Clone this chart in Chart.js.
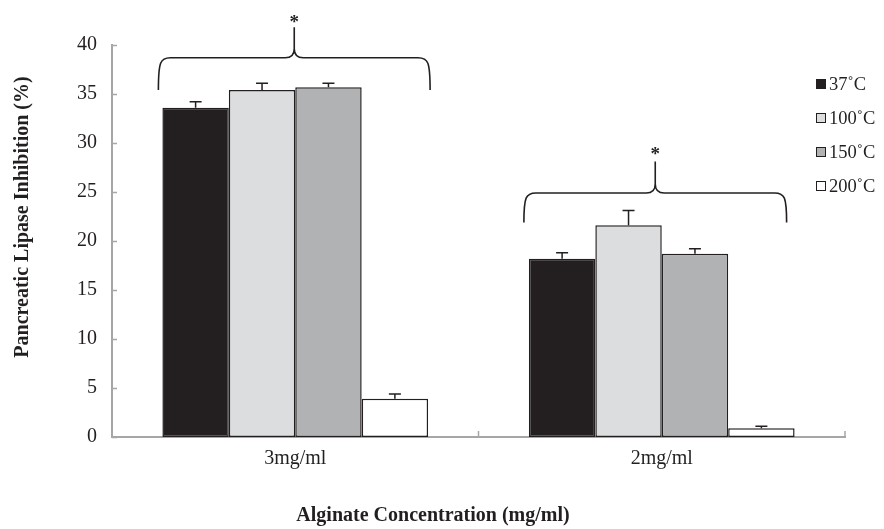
<!DOCTYPE html>
<html>
<head>
<meta charset="utf-8">
<script src="https://cdn.jsdelivr.net/npm/chart.js@4.4.0/dist/chart.umd.min.js"></script>
<style>
    html, body { margin: 0; padding: 0; background: #fff; }
    #wrap { width: 884px; height: 529px; position: relative; }
</style>
</head>
<body>
<div id="wrap"><canvas id="lipaseChart" width="884" height="529"></canvas></div>
<script>
const categories = ["3mg/ml", "2mg/ml"];
const seriesNames = ["37\u02daC", "100\u02daC", "150\u02daC", "200\u02daC"];
const v37 = [33.6, 18.2];
const v100 = [35.4, 21.6];
const v150 = [35.7, 18.7];
const v200 = [3.9, 0.9];
const e37 = [0.6, 0.6];
const e100 = [0.7, 1.5];
const e150 = [0.4, 0.5];
const e200 = [0.5, 0.2];
const yTicks = [0, 5, 10, 15, 20, 25, 30, 35, 40];

// significance braces (values in % units)
const braceTop = [38.7, 24.9];
const braceEnd = [35.4, 21.9];
const braceSpike = [41.8, 28.1];
const starAt = [42.6, 29.2];

const serif = "'Liberation Serif', 'Times New Roman', serif";
const ink = "#231f20";
const fills = ["#231f20", "#dcdddf", "#b1b2b4", "#ffffff"];
const values = [v37, v100, v150, v200];
const errors = [e37, e100, e150, e200];

const errorBars = {
    id: "errorBars",
    afterDatasetsDraw(chart) {
        const { ctx, scales: { y } } = chart;
        ctx.save();
        ctx.strokeStyle = ink;
        ctx.lineWidth = 1.5;
        chart.data.datasets.forEach((ds, di) => {
            const meta = chart.getDatasetMeta(di);
            meta.data.forEach((bar, i) => {
                const top = y.getPixelForValue(ds.data[i] + errors[di][i]);
                ctx.beginPath();
                ctx.moveTo(bar.x, bar.y);
                ctx.lineTo(bar.x, top);
                ctx.moveTo(bar.x - 6, top);
                ctx.lineTo(bar.x + 6, top);
                ctx.stroke();
            });
        });
        ctx.restore();
    }
};

const extras = {
    id: "extras",
    afterDraw(chart) {
        const { ctx, chartArea: a, scales: { x, y } } = chart;
        ctx.save();

        // inside tick marks
        ctx.strokeStyle = "#a6a6a6";
        ctx.lineWidth = 1.5;
        ctx.beginPath();
        yTicks.forEach(t => {
            const py = Math.round(y.getPixelForValue(t)) + 0.5;
            ctx.moveTo(a.left, py);
            ctx.lineTo(a.left + 5, py);
        });
        for (let i = 1; i <= categories.length; i++) {
            const px = x.getPixelForValue(i - 0.5);
            ctx.moveTo(px, a.bottom);
            ctx.lineTo(px, a.bottom - 6);
        }
        ctx.stroke();

        // braces with asterisks
        const first = chart.getDatasetMeta(0).data;
        const last = chart.getDatasetMeta(3).data;
        const trims = [[4, 2], [5, -8]];
        ctx.strokeStyle = ink;
        ctx.lineWidth = 1.6;
        categories.forEach((c, g) => {
            const xl = first[g].x - first[g].width / 2 - trims[g][0];
            const xr = last[g].x + last[g].width / 2 + trims[g][1];
            const xc = (xl + xr) / 2;
            const yt = y.getPixelForValue(braceTop[g]);
            const ye = y.getPixelForValue(braceEnd[g]);
            const ys = y.getPixelForValue(braceSpike[g]);
            ctx.beginPath();
            ctx.moveTo(xl, ye);
            ctx.bezierCurveTo(xl, yt + 4, xl + 2, yt, xl + 12, yt);
            ctx.lineTo(xc - 9, yt);
            ctx.quadraticCurveTo(xc, yt, xc, yt - 9);
            ctx.lineTo(xc, ys);
            ctx.moveTo(xc, yt - 9);
            ctx.quadraticCurveTo(xc, yt, xc + 9, yt);
            ctx.lineTo(xr - 12, yt);
            ctx.bezierCurveTo(xr - 2, yt, xr, yt + 4, xr, ye);
            ctx.stroke();
            ctx.fillStyle = ink;
            ctx.font = "bold 19px " + serif;
            ctx.textAlign = "center";
            ctx.textBaseline = "middle";
            ctx.fillText("*", xc, y.getPixelForValue(starAt[g]) + 4);
        });

        // legend
        ctx.font = "18.5px " + serif;
        ctx.textAlign = "left";
        ctx.textBaseline = "middle";
        seriesNames.forEach((name, i) => {
            const cy = 84 + i * 34;
            ctx.fillStyle = fills[i];
            ctx.fillRect(816, cy - 5, 10, 10);
            ctx.strokeStyle = ink;
            ctx.lineWidth = 1;
            ctx.strokeRect(816.5, cy - 4.5, 9, 9);
            ctx.fillStyle = ink;
            ctx.fillText(name, 829, cy + 1);
        });

        // axis titles
        ctx.font = "bold 20px " + serif;
        ctx.textAlign = "center";
        ctx.fillText("Alginate Concentration (mg/ml)", 433, 516);
        ctx.translate(23, 217);
        ctx.rotate(-Math.PI / 2);
        ctx.fillText("Pancreatic Lipase Inhibition (%)", 0, 0);
        ctx.restore();
    }
};

new Chart(document.getElementById("lipaseChart").getContext("2d"), {
    type: "bar",
    data: {
        labels: categories,
        datasets: seriesNames.map((name, i) => ({
            label: name,
            data: values[i],
            backgroundColor: fills[i],
            borderColor: ink,
            borderWidth: 1.5,
            borderSkipped: false,
            barPercentage: 1,
            categoryPercentage: 0.725
        }))
    },
    options: {
        responsive: false,
        animation: false,
        events: [],
        layout: { padding: { left: 0, top: 45, right: 39, bottom: 0 } },
        scales: {
            x: {
                grid: { display: false },
                border: { display: true, color: "#a6a6a6", width: 2 },
                ticks: { color: ink, font: { family: serif, size: 20 }, padding: 2 },
                afterFit: s => { s.height = 92; }
            },
            y: {
                min: 0,
                max: 40,
                afterBuildTicks: s => { s.ticks = yTicks.map(v => ({ value: v })); },
                grid: { display: false },
                border: { display: true, color: "#a6a6a6", width: 2 },
                ticks: { color: ink, font: { family: serif, size: 20 }, padding: 7 },
                afterFit: s => { s.width = 112; }
            }
        },
        plugins: { legend: { display: false }, tooltip: { enabled: false } }
    },
    plugins: [errorBars, extras]
});
</script>
</body>
</html>
